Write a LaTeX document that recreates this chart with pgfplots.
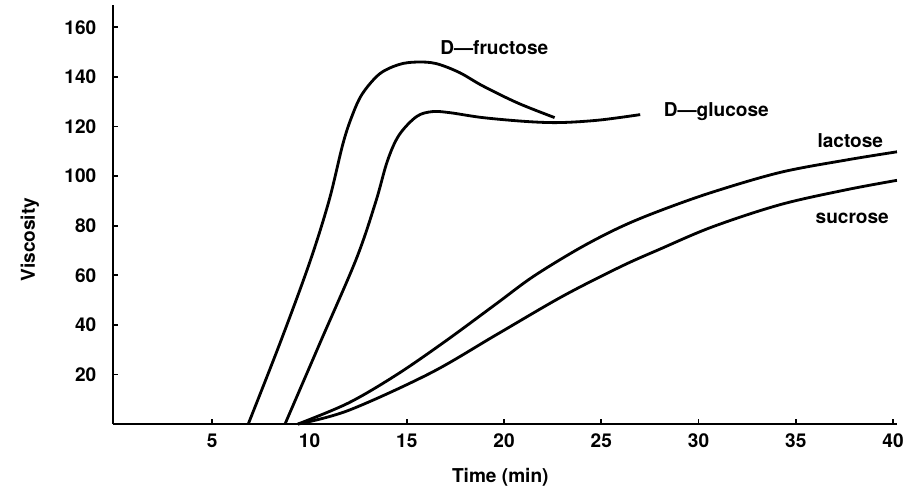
\documentclass[border=0pt]{standalone}
\usepackage{fontspec}
\setmainfont{TeX Gyre Heros}
\usepackage{pgfplots}
\pgfplotsset{compat=1.18}

\newcommand{\lbl}{\fontsize{9.5}{11}\selectfont\bfseries}

\begin{document}
\begin{tikzpicture}
\useasboundingbox (-56.3pt,-34.4pt) rectangle (397.4pt,211.2pt);
\begin{axis}[
  scale only axis,
  width=390.4pt, height=208.7pt,
  xmin=-0.1, xmax=40.2,
  ymin=0, ymax=169,
  axis x line=bottom, axis y line=left,
  axis line style={-, line width=1.2pt},
  tick align=inside,
  major tick length=2.5pt,
  tick style={line width=0.9pt, black},
  xtick={5,10,...,40},
  ytick={20,40,...,160},
  /pgf/number format/assume math mode=true,
  tick label style={font=\lbl},
  xticklabel style={yshift=-1.4pt},
  yticklabel style={xshift=-4.8pt},
  xlabel={Time (min)},
  ylabel={Viscosity},
  label style={font=\lbl},
  xlabel style={at={(axis description cs:0.494,0)}, anchor=center, yshift=-26.4pt},
  ylabel style={at={(axis description cs:-0.106,0.44)}, anchor=center},
  clip=false,
]
% D-fructose
\addplot[black, line width=1.4pt, smooth, tension=0.55] coordinates {
  (6.85,0) (8.5,33) (10.0,65) (11.0,90) (11.7,112.5)
  (12.15,123.5) (12.7,133) (13.6,141.2) (14.6,145) (15.5,146) (16.5,145.4)
  (17.7,141.8) (18.9,136.4) (20.7,129.5) (22.6,123.6)};
% D-glucose
\addplot[black, line width=1.4pt, smooth, tension=0.55] coordinates {
  (8.74,0) (10.5,32) (12.4,66.5) (13.4,89.5) (14.0,106) (14.6,116.5)
  (15.5,124) (16.3,126) (17.2,125.6) (18.9,123.6) (21.2,122) (22.9,121.6)
  (24.9,122.6) (27.0,124.8)};
% lactose
\addplot[black, line width=1.4pt, smooth, tension=0.55] coordinates {
  (9.4,0) (12,8.5) (14.5,20) (17,33.5) (19.6,48.5) (21.5,59.5) (23.9,71)
  (26,79.5) (28,86) (30.7,93.5) (34.2,101.5) (37.6,106.5) (40.2,109.8)};
% sucrose
\addplot[black, line width=1.4pt, smooth, tension=0.55] coordinates {
  (9.4,0) (12,5.5) (16.2,20.5) (19.6,36) (23,51.5) (26,63.5) (28,70.5)
  (30.7,79.5) (34.2,88.5) (37.6,94.5) (40.2,98.3)};

\node[font=\lbl] at (axis cs:19.5,152) {D---fructose};
\node[font=\lbl, anchor=west] at (axis cs:27.85,126) {D---glucose};
\node[font=\lbl] at (axis cs:37.8,114.5) {lactose};
\node[font=\lbl] at (axis cs:37.9,83) {sucrose};
\end{axis}
\end{tikzpicture}
\end{document}
